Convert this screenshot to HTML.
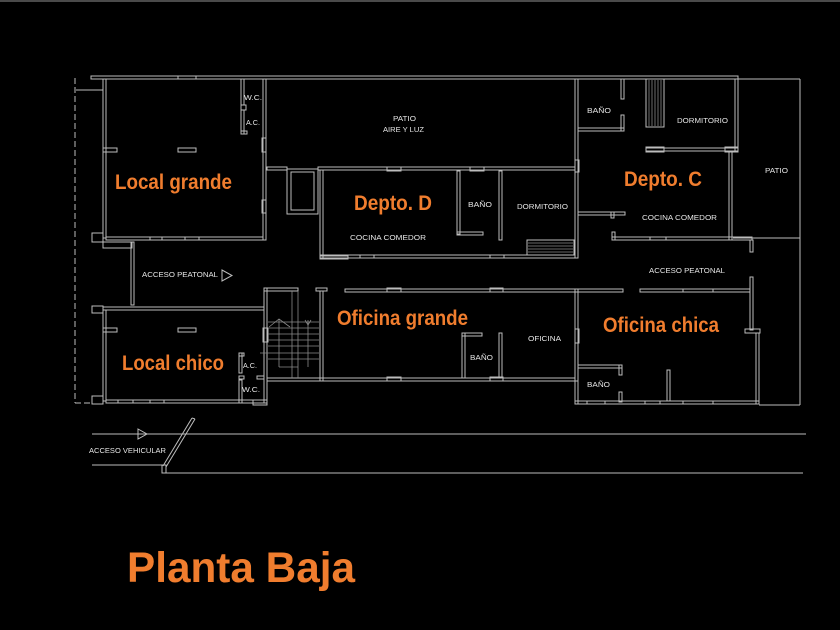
<!DOCTYPE html>
<html><head><meta charset="utf-8"><style>
html,body{margin:0;padding:0;background:#000;}
svg{display:block;}
.w{fill:none;stroke:#bdbdbd;stroke-width:1;}
.l{stroke:#bdbdbd;stroke-width:1;fill:none;}
.d{stroke:#8a8a8a;stroke-width:0.8;fill:none;}
.o{font-family:"Liberation Sans",Arial,sans-serif;font-weight:bold;font-size:21px;fill:#F07D2E;}
.s{font-family:"Liberation Sans",Arial,sans-serif;font-size:7.5px;fill:#e6e6e6;}
</style></head><body>
<svg width="840" height="630" viewBox="0 0 840 630" xmlns="http://www.w3.org/2000/svg">
<rect x="0" y="0" width="840" height="630" fill="#000"/>
<rect x="0" y="0" width="840" height="2" fill="#4a4a4a"/>

<!-- left dashed boundary -->
<line x1="75" y1="78" x2="75" y2="403" class="l" stroke-dasharray="6,3"/>
<line x1="75" y1="403" x2="92" y2="403" class="l" stroke-dasharray="6,3"/>
<line x1="76" y1="90" x2="103" y2="90" class="l"/>

<!-- top outer wall -->
<rect x="91" y="76" width="647" height="3" class="w"/>
<rect x="178" y="76" width="18" height="3" class="w"/>

<!-- Local grande -->
<rect x="103" y="79" width="3" height="159" class="w"/>
<rect x="263" y="79" width="3" height="161" class="w"/>
<rect x="106" y="237" width="157" height="3" class="w"/>
<rect x="92" y="233" width="11" height="9" class="w"/>
<rect x="103" y="242" width="29" height="6" class="w"/>
<rect x="103" y="148" width="14" height="4" class="w"/>
<rect x="178" y="148" width="18" height="4" class="w"/>
<rect x="262" y="138" width="4" height="14" class="w"/>
<rect x="262" y="200" width="4" height="13" class="w"/>
<rect x="150" y="237" width="12" height="3" class="w"/>
<rect x="185" y="237" width="14" height="3" class="w"/>
<!-- WC/AC top -->
<rect x="241" y="79" width="3" height="26" class="w"/>
<rect x="241" y="110" width="3" height="24" class="w"/>
<rect x="241" y="131" width="6" height="3" class="w"/>
<rect x="241" y="105" width="5" height="5" class="w"/>

<!-- corridor left wall -->
<rect x="131" y="242" width="3" height="63" class="w"/>

<!-- Local chico -->
<rect x="103" y="307" width="161" height="3" class="w"/>
<rect x="92" y="306" width="11" height="7" class="w"/>
<rect x="103" y="310" width="3" height="91" class="w"/>
<rect x="106" y="400" width="158" height="3" class="w"/>
<rect x="92" y="396" width="11" height="8" class="w"/>
<rect x="264" y="288" width="3" height="115" class="w"/>
<rect x="264" y="288" width="34" height="3" class="w"/>
<rect x="253" y="400" width="14" height="5" class="w"/>
<rect x="103" y="328" width="14" height="4" class="w"/>
<rect x="178" y="328" width="18" height="4" class="w"/>
<rect x="263" y="328" width="5" height="14" class="w"/>
<rect x="118" y="400" width="15" height="3" class="w"/>
<rect x="150" y="400" width="14" height="3" class="w"/>
<!-- AC/WC bottom -->
<rect x="239" y="353" width="3" height="20" class="w"/>
<rect x="239" y="380" width="3" height="23" class="w"/>
<rect x="239" y="353" width="5" height="3" class="w"/>
<rect x="239" y="376" width="5" height="3" class="w"/>
<rect x="257" y="376" width="7" height="3" class="w"/>

<!-- stairs -->
<rect x="316" y="288" width="11" height="3" class="w"/>
<rect x="320" y="291" width="3" height="90" class="w"/>
<rect x="267" y="378" width="308" height="3" class="w"/>
<g class="d">
<line x1="292" y1="291" x2="292" y2="378"/>
<line x1="298" y1="291" x2="298" y2="378"/>
<line x1="279" y1="319" x2="279" y2="367"/>
<line x1="308" y1="320" x2="308" y2="367"/>
<line x1="279" y1="367" x2="298" y2="367"/>
<polyline points="269,327 279,319 290,327"/>
<polyline points="305,320 308,325 311,320"/>
<line x1="268" y1="322" x2="319" y2="322"/>
<line x1="268" y1="328" x2="319" y2="328"/>
<line x1="268" y1="334" x2="319" y2="334"/>
<line x1="268" y1="340" x2="319" y2="340"/>
<line x1="268" y1="346" x2="319" y2="346"/>
<line x1="260" y1="353" x2="319" y2="353"/>
<line x1="268" y1="359" x2="319" y2="359"/>
</g>

<!-- Oficina grande -->
<rect x="345" y="289" width="230" height="3" class="w"/>
<rect x="387" y="288" width="14" height="4" class="w"/>
<rect x="490" y="288" width="13" height="4" class="w"/>
<rect x="387" y="377" width="14" height="4" class="w"/>
<rect x="490" y="377" width="13" height="4" class="w"/>
<rect x="575" y="289" width="3" height="92" class="w"/>
<rect x="575" y="329" width="4" height="14" class="w"/>
<rect x="462" y="333" width="3" height="45" class="w"/>
<rect x="462" y="333" width="20" height="3" class="w"/>
<rect x="499" y="333" width="3" height="45" class="w"/>

<!-- Oficina chica -->
<rect x="575" y="289" width="48" height="3" class="w"/>
<rect x="640" y="289" width="110" height="3" class="w"/>
<rect x="683" y="289" width="30" height="3" class="w"/>
<rect x="575" y="292" width="3" height="112" class="w"/>
<rect x="750" y="277" width="3" height="53" class="w"/>
<rect x="756" y="333" width="3" height="71" class="w"/>
<rect x="745" y="329" width="15" height="4" class="w"/>
<rect x="575" y="401" width="184" height="3" class="w"/>
<rect x="587" y="401" width="18" height="3" class="w"/>
<rect x="645" y="401" width="15" height="3" class="w"/>
<rect x="683" y="401" width="30" height="3" class="w"/>
<rect x="578" y="365" width="44" height="3" class="w"/>
<rect x="619" y="365" width="3" height="10" class="w"/>
<rect x="619" y="392" width="3" height="10" class="w"/>
<rect x="667" y="370" width="3" height="31" class="w"/>

<!-- Depto D + elevator -->
<rect x="267" y="167" width="20" height="3" class="w"/>
<rect x="287" y="169" width="31" height="45" class="w"/>
<rect x="291" y="172" width="23" height="38" class="w"/>
<rect x="318" y="167" width="257" height="3" class="w"/>
<rect x="387" y="167" width="14" height="4" class="w"/>
<rect x="470" y="167" width="14" height="4" class="w"/>
<rect x="320" y="170" width="3" height="88" class="w"/>
<rect x="320" y="255" width="255" height="3" class="w"/>
<rect x="320" y="256" width="28" height="3" class="w"/>
<rect x="360" y="255" width="14" height="3" class="w"/>
<rect x="490" y="255" width="14" height="3" class="w"/>
<rect x="457" y="171" width="3" height="63" class="w"/>
<rect x="457" y="232" width="26" height="3" class="w"/>
<rect x="499" y="171" width="3" height="69" class="w"/>
<rect x="527" y="240" width="47" height="15" class="w"/>
<g class="d">
<line x1="528" y1="243" x2="573" y2="243"/>
<line x1="528" y1="246" x2="573" y2="246"/>
<line x1="528" y1="249" x2="573" y2="249"/>
<line x1="528" y1="252" x2="573" y2="252"/>
</g>

<!-- right top: Depto C -->
<rect x="575" y="79" width="3" height="179" class="w"/>
<rect x="575" y="160" width="4" height="12" class="w"/>
<rect x="621" y="79" width="3" height="20" class="w"/>
<rect x="621" y="115" width="3" height="16" class="w"/>
<rect x="578" y="128" width="46" height="3" class="w"/>
<rect x="646" y="79" width="18" height="48" class="w"/>
<g class="d">
<line x1="649" y1="80" x2="649" y2="126"/>
<line x1="652" y1="80" x2="652" y2="126"/>
<line x1="655" y1="80" x2="655" y2="126"/>
<line x1="658" y1="80" x2="658" y2="126"/>
<line x1="661" y1="80" x2="661" y2="126"/>
</g>
<rect x="646" y="148" width="92" height="3" class="w"/>
<rect x="646" y="147" width="18" height="5" class="w"/>
<rect x="725" y="147" width="13" height="5" class="w"/>
<rect x="735" y="79" width="3" height="72" class="w"/>
<rect x="729" y="151" width="3" height="89" class="w"/>
<rect x="578" y="212" width="47" height="3" class="w"/>
<rect x="611" y="212" width="3" height="6" class="w"/>
<rect x="612" y="237" width="140" height="3" class="w"/>
<rect x="612" y="232" width="3" height="8" class="w"/>
<rect x="650" y="237" width="16" height="3" class="w"/>
<rect x="750" y="240" width="3" height="12" class="w"/>

<!-- right patio -->
<line x1="738" y1="79" x2="800" y2="79" class="l"/>
<line x1="800" y1="79" x2="800" y2="405" class="l"/>
<line x1="733" y1="238" x2="800" y2="238" class="l"/>
<line x1="759" y1="405" x2="800" y2="405" class="l"/>

<!-- street lines -->
<line x1="92" y1="434" x2="806" y2="434" class="l"/>
<line x1="92" y1="465" x2="163" y2="465" class="l"/>
<line x1="163" y1="473" x2="803" y2="473" class="l"/>
<line x1="163" y1="466" x2="192" y2="418" class="l"/>
<line x1="166" y1="467" x2="195" y2="419" class="l"/>
<line x1="192" y1="418" x2="195" y2="419" class="l"/>
<rect x="162" y="465" width="4" height="8" class="w"/>
<polygon points="138,429 147,434 138,439" class="l"/>
<polygon points="222,270 232,275.5 222,281" class="l"/>

<!-- small labels -->
<text class="s" x="244" y="100" textLength="18" lengthAdjust="spacingAndGlyphs">W.C.</text>
<text class="s" x="246" y="125" textLength="14" lengthAdjust="spacingAndGlyphs">A.C.</text>
<text class="s" x="393" y="121" textLength="23" lengthAdjust="spacingAndGlyphs">PATIO</text>
<text class="s" x="383" y="132" textLength="41" lengthAdjust="spacingAndGlyphs">AIRE Y LUZ</text>
<text class="s" x="468" y="207" textLength="24" lengthAdjust="spacingAndGlyphs">BAÑO</text>
<text class="s" x="517" y="209" textLength="51" lengthAdjust="spacingAndGlyphs">DORMITORIO</text>
<text class="s" x="350" y="240" textLength="76" lengthAdjust="spacingAndGlyphs">COCINA COMEDOR</text>
<text class="s" x="587" y="113" textLength="24" lengthAdjust="spacingAndGlyphs">BAÑO</text>
<text class="s" x="677" y="123" textLength="51" lengthAdjust="spacingAndGlyphs">DORMITORIO</text>
<text class="s" x="642" y="220" textLength="75" lengthAdjust="spacingAndGlyphs">COCINA COMEDOR</text>
<text class="s" x="765" y="173" textLength="23" lengthAdjust="spacingAndGlyphs">PATIO</text>
<text class="s" x="142" y="277" textLength="76" lengthAdjust="spacingAndGlyphs">ACCESO PEATONAL</text>
<text class="s" x="243" y="368" textLength="14" lengthAdjust="spacingAndGlyphs">A.C.</text>
<text class="s" x="242" y="392" textLength="18" lengthAdjust="spacingAndGlyphs">W.C.</text>
<text class="s" x="470" y="360" textLength="23" lengthAdjust="spacingAndGlyphs">BAÑO</text>
<text class="s" x="528" y="341" textLength="33" lengthAdjust="spacingAndGlyphs">OFICINA</text>
<text class="s" x="649" y="273" textLength="76" lengthAdjust="spacingAndGlyphs">ACCESO PEATONAL</text>
<text class="s" x="587" y="387" textLength="23" lengthAdjust="spacingAndGlyphs">BAÑO</text>
<text class="s" x="89" y="453" textLength="77" lengthAdjust="spacingAndGlyphs">ACCESO VEHICULAR</text>

<!-- orange labels -->
<text class="o" x="115" y="189" textLength="117" lengthAdjust="spacingAndGlyphs">Local grande</text>
<text class="o" x="354" y="210" textLength="78" lengthAdjust="spacingAndGlyphs">Depto. D</text>
<text class="o" x="624" y="186" textLength="78" lengthAdjust="spacingAndGlyphs">Depto. C</text>
<text class="o" x="122" y="370" textLength="102" lengthAdjust="spacingAndGlyphs">Local chico</text>
<text class="o" x="337" y="325" textLength="131" lengthAdjust="spacingAndGlyphs">Oficina grande</text>
<text class="o" x="603" y="332" textLength="116" lengthAdjust="spacingAndGlyphs">Oficina chica</text>
<text class="o" x="127" y="582" style="font-size:43px" textLength="228" lengthAdjust="spacingAndGlyphs">Planta Baja</text>
</svg>
</body></html>
